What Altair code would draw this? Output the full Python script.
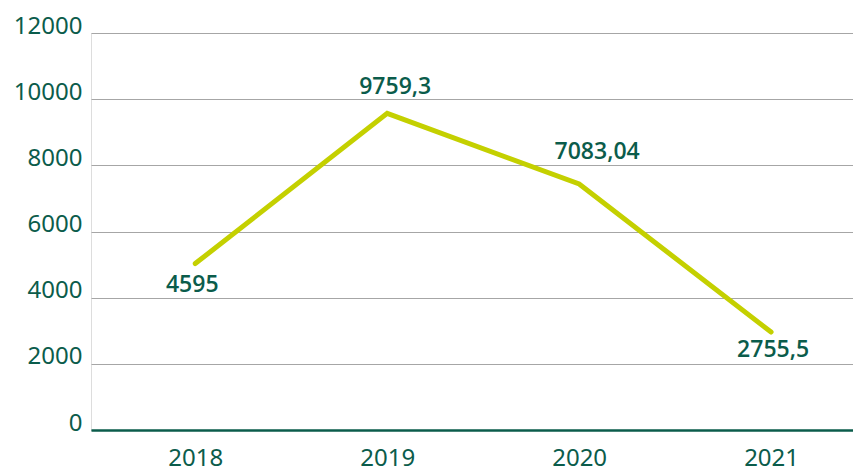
import altair as alt
import pandas as pd

years = ["2018", "2019", "2020", "2021"]
line_values = [5030, 9570, 7436, 2960]
label_texts = ["4595", "9759,3", "7083,04", "2755,5"]

df = pd.DataFrame({"year": years, "value": line_values, "label": label_texts})

GREEN = "#0b5c4b"
LIME = "#c4d000"
FONT = "Noto Sans"

x = alt.X("year:N", sort=years, title=None,
          scale=alt.Scale(type="point", padding=0.485, align=0.56),
          axis=alt.Axis(labelAngle=0, labelFontSize=24, labelColor=GREEN, labelFont=FONT,
                        labelPadding=35, labelBaseline="alphabetic", ticks=False,
                        domain=True, domainColor=GREEN, domainWidth=2.5, grid=False))
y = alt.Y("value:Q", title=None,
          scale=alt.Scale(domain=[0, 12000], nice=False, zero=True),
          axis=alt.Axis(values=[0, 2000, 4000, 6000, 8000, 10000, 12000], format="d",
                        labelFontSize=24, labelColor=GREEN, labelFont=FONT,
                        labelPadding=9, labelBaseline="alphabetic", ticks=False,
                        domain=False, grid=True, gridColor="#a6a6a6", gridWidth=1))

base = alt.Chart(df)

line = base.mark_line(color=LIME, strokeWidth=5, strokeCap="round", strokeJoin="miter").encode(x=x, y=y)

def lab(year, dx, dy):
    return base.transform_filter(alt.datum.year == year).mark_text(
        font="Open Sans", fontSize=23, fontWeight=600, color=GREEN,
        baseline="alphabetic", align="center", dx=dx, dy=dy
    ).encode(x=x, y=y, text="label:N")

labels = [lab("2018", -3, 28), lab("2019", 8, -19), lab("2020", 18, -25), lab("2021", 2, 25)]

chart = alt.layer(line, *labels).properties(
    width=762, height=397,
    autosize=alt.AutoSizeParams(type="none"),
    padding={"left": 83, "top": 25, "right": 0, "bottom": 36},
).configure_view(strokeWidth=0, fill="white").configure_axisX(grid=False).configure(background="white")

chart.save("out.html", embed_options={"renderer": "svg", "actions": False})
